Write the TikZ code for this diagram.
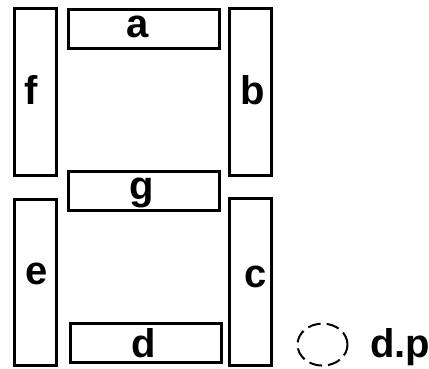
\documentclass[tikz,border=0pt]{standalone}
\usepackage{fontspec}
\setmainfont{Liberation Sans}
\usetikzlibrary{shapes.geometric}
\begin{document}
\begin{tikzpicture}[x=1pt,y=-1pt,
  seg/.style={draw=black, line width=3pt, rectangle, inner sep=0pt, fill=white},
  vseg/.style={seg, minimum width=42pt, minimum height=166.5pt},
  hseg/.style={seg, minimum width=151pt, minimum height=39pt},
  lbl/.style={anchor=base, inner sep=0pt, font=\fontsize{40}{48}\selectfont\bfseries}]
\useasboundingbox (0,0) rectangle (429,368);
\fill[white] (0,0) rectangle (429,368);
\node[vseg] (f) at (35.8,92) {};
\node[hseg] (a) at (143.7,28.7) {};
\node[vseg] (b) at (250.7,92) {};
\node[hseg] (g) at (143.7,190.9) {};
\node[vseg] (e) at (35.8,282.3) {};
\node[hseg] (d) at (146.3,343.4) {};
\node[vseg] (c) at (250.8,282) {};
\node[draw=black, line width=2pt, ellipse, minimum width=50pt, minimum height=42pt, inner sep=0pt, dash pattern=on 13pt off 6pt] (dp) at (322.5,344.6) {};
\node[lbl] (la) at (138,37) {a};
\node[lbl] (lf) at (31,104) {f};
\node[lbl] (lb) at (253,104) {b};
\node[lbl] (lg) at (142,199) {g};
\node[lbl] (le) at (37,284) {e};
\node[lbl] (lc) at (255.5,287) {c};
\node[lbl] (ld) at (143.5,357) {d};
\node[lbl, anchor=base west] (ldp) at (370,357) {d.p};
\end{tikzpicture}
\end{document}
